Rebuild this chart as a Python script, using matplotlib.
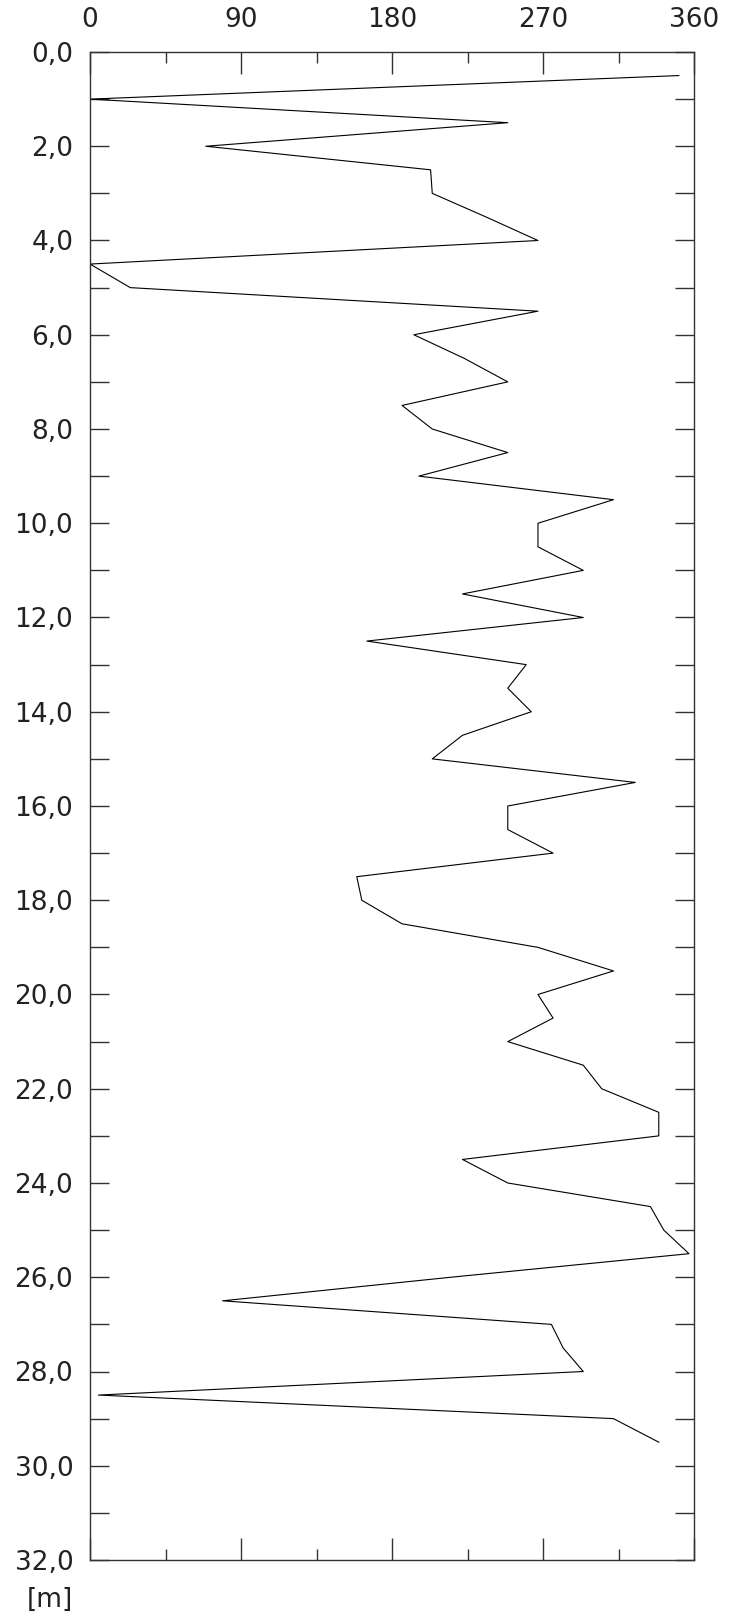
import numpy as np
import matplotlib
matplotlib.use("Agg")
import matplotlib.pyplot as plt
from matplotlib.ticker import MultipleLocator, FuncFormatter

# depth [m] and direction [deg]
depth = [0.5, 1.0, 1.5, 2.0, 2.5, 3.0, 3.5, 4.0, 4.5, 5.0,
         5.5, 6.0, 6.5, 7.0, 7.5, 8.0, 8.5, 9.0, 9.5, 10.0,
         10.5, 11.0, 11.5, 12.0, 12.5, 13.0, 13.5, 14.0, 14.5, 15.0,
         15.5, 16.0, 16.5, 17.0, 17.5, 18.0, 18.5, 19.0, 19.5, 20.0,
         20.5, 21.0, 21.5, 22.0, 22.5, 23.0, 23.5, 24.0, 24.5, 25.0,
         25.5, 26.0, 26.5, 27.0, 27.5, 28.0, 28.5, 29.0, 29.5]
angle = [351, 0, 249, 69, 203, 204, 236, 267, 0, 24,
         267, 193, 223, 249, 186, 204, 249, 196, 312, 267,
         267, 294, 222, 294, 165, 260, 249, 263, 222, 204,
         325, 249, 249, 276, 159, 162, 186, 267, 312, 267,
         276, 249, 294, 305, 339, 339, 222, 249, 334, 342,
         357, 215, 79, 275, 282, 294, 5, 312, 339]

x_ticks = [0, 90, 180, 270, 360]
y_max = 32

W, H = 737, 1616
fig = plt.figure(figsize=(W / 100, H / 100), dpi=100)
ax = fig.add_axes([90 / W, 1 - 1560 / H, (694 - 90) / W, (1560 - 52) / H])

ax.plot(angle, depth, color='black', linewidth=0.8)

ax.set_xlim(x_ticks[0], x_ticks[-1])
ax.set_ylim(y_max, 0)

txt = '#222222'
ax.set_xticks(x_ticks)
ax.xaxis.set_minor_locator(MultipleLocator(45))
ax.yaxis.set_major_locator(MultipleLocator(2))
ax.yaxis.set_minor_locator(MultipleLocator(1))
ax.yaxis.set_major_formatter(FuncFormatter(lambda v, p: ('%.1f' % v).replace('.', ',')))

ax.tick_params(axis='x', which='both', direction='in', top=True, bottom=True,
               labeltop=True, labelbottom=False, colors='#333333', labelcolor=txt,
               labelsize=19)
ax.tick_params(axis='x', which='major', length=16, width=1, pad=14)
ax.tick_params(axis='x', which='minor', length=8, width=1)
ax.tick_params(axis='y', which='both', direction='in', left=True, right=True,
               length=14, width=1, colors='#333333', labelcolor=txt,
               labelsize=19, pad=12)

for s in ax.spines.values():
    s.set_linewidth(1.0)
    s.set_color('#333333')

fig.text(73 / W, 1 - 1600 / H, '[m]', ha='right', va='center', fontsize=19, color=txt)

fig.savefig('out.png', dpi=100)
